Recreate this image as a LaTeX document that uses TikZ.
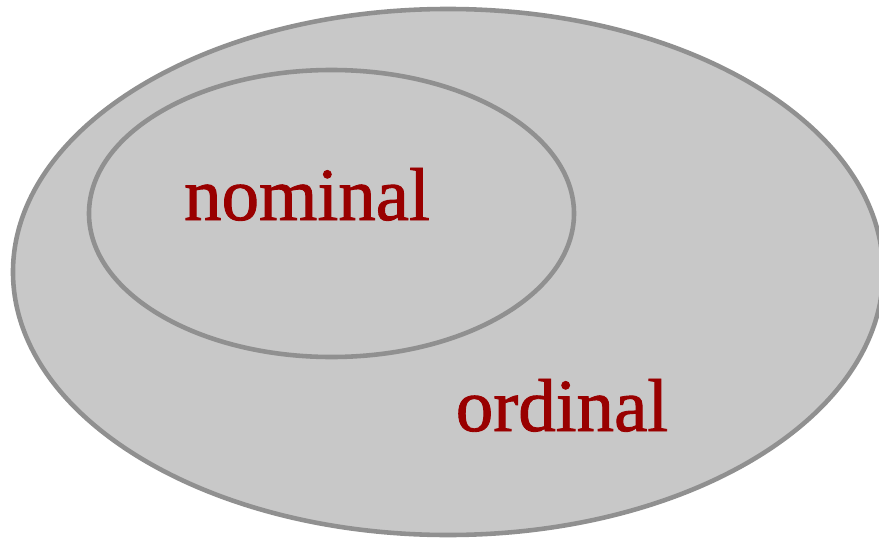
\documentclass[tikz,border=0pt]{standalone}
\usepackage{fontspec}
\setmainfont{Liberation Serif}
\newfontfamily\labelfont[FakeBold=1.2]{Liberation Serif}
\usetikzlibrary{shapes.geometric}
\definecolor{SetFill}{HTML}{C8C8C8}
\definecolor{SetLine}{HTML}{909090}
\definecolor{LabelRed}{HTML}{990000}
\begin{document}
\begin{tikzpicture}[
    x=0.03cm, y=-0.03cm,
    set/.style={ellipse, draw=SetLine, fill=SetFill, line width=3.9pt, inner sep=0pt},
    label/.style={text=LabelRed, anchor=base, font=\labelfont\fontsize{64}{78}\selectfont}
]
\useasboundingbox (0,0) rectangle (879,538);

% Sets
\node[set, minimum width=26.1cm, minimum height=15.78cm] (ordinalset) at (448,272) {};
\node[set, minimum width=14.55cm, minimum height=8.61cm] (nominalset) at (331.5,213.5) {};

% Labels
\node[label] (nominal) at (307,220) {nominal};
\node[label] (ordinal) at (562,431) {ordinal};

\end{tikzpicture}
\end{document}
